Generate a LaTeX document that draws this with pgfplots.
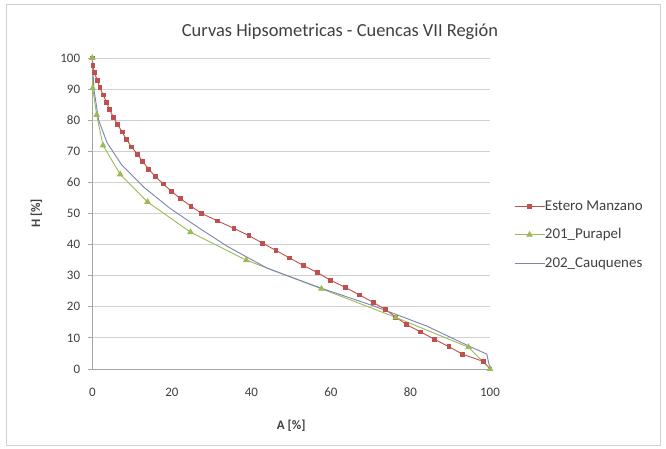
\documentclass[border=0pt]{standalone}
\usepackage{pgfplots}
\pgfplotsset{compat=1.18}
\usepackage{fontspec}
\setmainfont{Carlito}
\definecolor{serred}{HTML}{C0504D}
\definecolor{sergreen}{HTML}{9BBB59}
\definecolor{serblue}{HTML}{7C83B5}
\definecolor{txt}{HTML}{404040}
\definecolor{gridc}{HTML}{D0D0D0}
\definecolor{axc}{HTML}{A6A6A6}
\begin{document}
\begin{tikzpicture}
\path[use as bounding box, fill=white] (0bp,0bp) rectangle (666bp,449bp);
\draw[color=gridc, line width=0.8bp] (6.5bp,3.5bp) rectangle (660.5bp,444.5bp);
\begin{axis}[
  at={(92.3bp,80bp)}, anchor=south west,
  scale only axis, width=397.7bp, height=311bp,
  xmin=0, xmax=100, ymin=0, ymax=100,
  xtick={0,20,...,100}, ytick={0,10,...,100},
  axis lines*=left,
  axis line style={color=axc, line width=0.8bp},
  ymajorgrids, grid style={color=gridc, line width=0.8bp},
  tick align=outside, major tick length=4bp,
  tick style={color=axc, line width=0.8bp},
  xtick style={draw=none},
  /pgf/number format/assume math mode=true,
  tick label style={font=\fontsize{13}{15}\selectfont, color=txt},
  xticklabel style={anchor=base, inner sep=0pt, yshift=-23bp},
  yticklabel style={anchor=east, inner sep=0pt, xshift=-8bp},
  xlabel={A [\%]}, ylabel={H [\%]},
  xlabel style={at={(axis description cs:0.5,-0.1945)}, anchor=base, font=\bfseries\fontsize{13}{15}\selectfont, color=txt, inner sep=0pt},
  ylabel style={at={(axis description cs:-0.1315,0.5)}, anchor=base, font=\bfseries\fontsize{13}{15}\selectfont, color=txt, inner sep=0pt},
  title={Curvas Hipsometricas - Cuencas VII Región},
  title style={at={(axis description cs:0.6228,1.050)}, anchor=base, font=\fontsize{18.5}{21}\selectfont, color=txt, inner sep=0pt},
  legend style={at={(1.0605,0.545)}, anchor=north west, draw=none, fill=none,
    font=\fontsize{15}{17}\selectfont, text=txt, inner sep=0pt, outer sep=0pt,
    row sep=15bp,
    nodes={inner sep=0pt, text height=10.5bp, text depth=3bp}},
  legend cell align=left,
  /tikz/every even column/.append style={column sep=4bp},
  legend image code/.code={\draw[mark repeat=2,mark phase=2,#1] plot coordinates {(0bp,0bp) (15bp,0bp) (30bp,0bp)};},
  clip=false,
]
\addplot[color=serred, line width=0.9bp, mark=square*, mark size=1.9bp, mark options={fill=serred, draw=serred}] coordinates {
(0,100)(0.15,97.62)(0.55,95.24)(1.25,92.86)(1.9,90.48)(2.75,88.10)(3.6,85.71)(4.4,83.33)(5.3,80.95)(6.4,78.57)
(7.5,76.19)(8.6,73.81)(9.85,71.43)(11.35,69.05)(12.7,66.67)(14.2,64.29)(15.8,61.90)(17.85,59.52)(19.9,57.14)(22.15,54.76)
(24.8,52.38)(27.5,50.00)(31.5,47.62)(35.6,45.24)(39.4,42.86)(42.8,40.48)(46.2,38.10)(49.6,35.71)(53.0,33.33)(56.7,30.95)
(59.85,28.57)(63.7,26.19)(67.2,23.81)(70.6,21.43)(73.8,19.05)(76.3,16.67)(79.0,14.29)(82.6,11.90)(86.1,9.52)(89.7,7.14)
(93.1,4.76)(98.4,2.38)(100,0)
};
\addlegendentry{Estero Manzano}
\addplot[color=sergreen, line width=0.9bp, mark=triangle*, mark size=3bp, mark options={fill=sergreen, draw=sergreen}] coordinates {
(0,100)(0.1,90.3)(1.1,81.7)(2.7,71.9)(7.0,62.6)(13.9,53.7)(24.7,44.0)(38.7,35.0)(57.6,25.8)(76.3,16.6)(94.6,7.0)(100,0)
};
\addlegendentry{201\_Purapel}
\addplot[color=serblue, line width=0.9bp, mark=none] coordinates {
(0,100)(0.4,90)(1.6,80)(3.7,72.8)(7.4,65.6)(13.0,58.4)(19.6,51.6)(27.0,45.2)(34.0,39.4)(44.0,32.4)(57.3,26.1)(70.7,20.3)(84.1,13.8)(95.0,7.2)(99.2,4.8)(100,0)
};
\addlegendentry{202\_Cauquenes}
\end{axis}
\end{tikzpicture}
\end{document}
